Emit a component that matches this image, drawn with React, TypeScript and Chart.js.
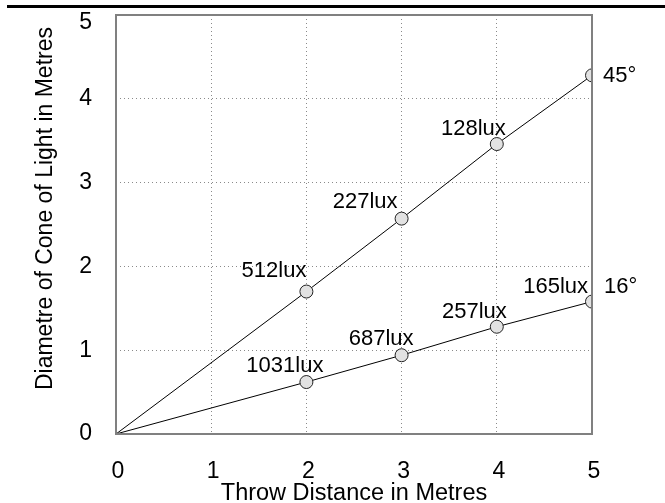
import { useEffect, useRef } from "react";
import { Chart, registerables } from "chart.js";

Chart.register(...registerables);

// ---- data ----
const throwDistance = [0, 2, 3, 4, 5];
const wideDiameter = [0, 1.7, 2.57, 3.46, 4.28]; // 45° beam
const narrowDiameter = [0, 0.62, 0.94, 1.28, 1.58]; // 16° beam
const wideLux = ["", "512lux", "227lux", "128lux", ""];
const narrowLux = ["", "1031lux", "687lux", "257lux", "165lux"];
const beamAngles = ["45°", "16°"];
const xTickValues = [0, 1, 2, 3, 4, 5];
const yTickValues = [0, 1, 2, 3, 4, 5];
const xTitle = "Throw Distance in Metres";
const yTitle = "Diametre of Cone of Light in Metres";

// ---- label placement (styling) ----
const wideLuxOffsets: [number, number][] = [[0, 0], [0, -15], [-4, -11], [9, -9], [0, 0]];
const narrowLuxOffsets: [number, number][] = [[0, 0], [17, -10], [12, -10], [10, -9], [-4, -9]];
const angleOffsets: [number, number][] = [[11, 7], [12, -9]];

const FONT = "'Liberation Sans', Arial, sans-serif";

const annotationPlugin = {
  id: "annotations",
  afterDatasetsDraw(chart: any) {
    const { ctx, chartArea } = chart;
    ctx.save();
    ctx.strokeStyle = "#808080";
    ctx.lineWidth = 2;
    ctx.strokeRect(chartArea.left, chartArea.top, chartArea.right - chartArea.left, chartArea.bottom - chartArea.top);
    ctx.restore();
  },
  afterDraw(chart: any) {
    const { ctx } = chart;
    ctx.save();
    ctx.font = `22px ${FONT}`;
    ctx.fillStyle = "#000";
    ctx.textBaseline = "alphabetic";
    ctx.textAlign = "right";
    const wideMeta = chart.getDatasetMeta(0).data;
    const narrowMeta = chart.getDatasetMeta(1).data;
    wideLux.forEach((t, i) => {
      if (!t) return;
      const p = wideMeta[i];
      ctx.fillText(t, p.x + wideLuxOffsets[i][0], p.y + wideLuxOffsets[i][1]);
    });
    narrowLux.forEach((t, i) => {
      if (!t) return;
      const p = narrowMeta[i];
      ctx.fillText(t, p.x + narrowLuxOffsets[i][0], p.y + narrowLuxOffsets[i][1]);
    });
    ctx.textAlign = "left";
    const lastW = wideMeta[wideMeta.length - 1];
    const lastN = narrowMeta[narrowMeta.length - 1];
    ctx.fillText(beamAngles[0], lastW.x + angleOffsets[0][0], lastW.y + angleOffsets[0][1]);
    ctx.fillText(beamAngles[1], lastN.x + angleOffsets[1][0], lastN.y + angleOffsets[1][1]);

    // y-axis title, rotated, ending near the top of the plot
    ctx.translate(52, 27);
    ctx.rotate(-Math.PI / 2);
    ctx.textAlign = "right";
    ctx.font = `23px ${FONT}`;
    ctx.fillText(yTitle, 0, 0);
    ctx.restore();
  },
};

export default function App() {
  const canvasRef = useRef<HTMLCanvasElement | null>(null);

  useEffect(() => {
    if (!canvasRef.current) return;
    const pointRadii = throwDistance.map((x) => (x === 0 ? 0 : 6.5));
    const gridColor = (ctx: any) =>
      ctx.tick && (ctx.tick.value === 0 || ctx.tick.value === 5) ? "rgba(0,0,0,0)" : "#8a8a8a";
    const chart = new Chart(canvasRef.current, {
      type: "line",
      data: {
        datasets: [
          {
            label: beamAngles[0],
            data: throwDistance.map((x, i) => ({ x, y: wideDiameter[i] })),
            borderColor: "#000",
            borderWidth: 1,
            pointRadius: pointRadii,
            pointBackgroundColor: "#e2e2e2",
            pointBorderColor: "#222",
            pointBorderWidth: 1,
            tension: 0,
          },
          {
            label: beamAngles[1],
            data: throwDistance.map((x, i) => ({ x, y: narrowDiameter[i] })),
            borderColor: "#000",
            borderWidth: 1,
            pointRadius: pointRadii,
            pointBackgroundColor: "#e2e2e2",
            pointBorderColor: "#222",
            pointBorderWidth: 1,
            tension: 0,
          },
        ],
      },
      options: {
        responsive: false,
        animation: false,
        events: [],
        layout: { padding: { left: 0, right: 73, top: 15, bottom: 0 } },
        plugins: { legend: { display: false }, tooltip: { enabled: false } },
        scales: {
          x: {
            type: "linear",
            min: 0,
            max: 5,
            afterBuildTicks: (s: any) => {
              s.ticks = xTickValues.map((v) => ({ value: v }));
            },
            afterFit: (s: any) => {
              s.height = 69;
              s.paddingLeft = 0;
              s.paddingRight = 0;
            },
            ticks: {
              color: "#000",
              font: { family: FONT, size: 23 },
              padding: 24,
              labelOffset: 2,
              maxRotation: 0,
              autoSkip: false,
            },
            grid: { color: gridColor, lineWidth: 1, drawTicks: false },
            border: { display: false, dash: [1, 3] },
            title: {
              display: true,
              text: xTitle,
              color: "#000",
              font: { family: FONT, size: 23.5, lineHeight: 1 },
              padding: { top: 0, bottom: -2 },
            },
          },
          y: {
            type: "linear",
            min: 0,
            max: 5,
            afterBuildTicks: (s: any) => {
              s.ticks = yTickValues.map((v) => ({ value: v }));
            },
            afterFit: (s: any) => {
              s.width = 116;
              s.paddingTop = 0;
              s.paddingBottom = 0;
            },
            ticks: {
              color: "#000",
              font: { family: FONT, size: 23, lineHeight: 0.68 },
              padding: 24,
              autoSkip: false,
              callback: (v: any) => (v === 5 ? ["", "5"] : String(v)),
            },
            grid: { color: gridColor, lineWidth: 1, drawTicks: false },
            border: { display: false, dash: [1, 3] },
            title: { display: false },
          },
        },
      },
      plugins: [annotationPlugin],
    });
    return () => chart.destroy();
  }, []);

  return (
    <div style={{ position: "fixed", left: 0, top: 0, width: 665, height: 503, background: "#fff" }}>
      <div style={{ position: "absolute", left: 7, top: 5, width: 658, height: 3, background: "#000" }} />
      <canvas ref={canvasRef} width={665} height={503} style={{ position: "absolute", left: 0, top: 0 }} />
    </div>
  );
}
